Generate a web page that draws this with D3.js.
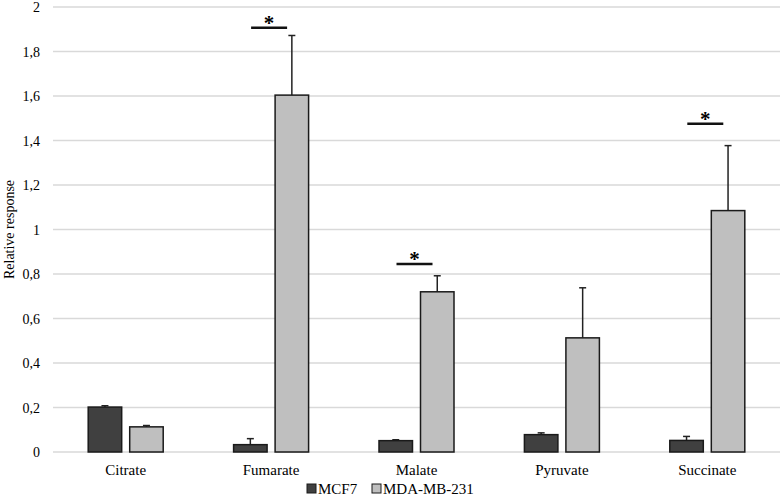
<!DOCTYPE html>
<html>
<head>
<meta charset="utf-8">
<script src="https://cdn.jsdelivr.net/npm/d3@7"></script>
<style>
  body { margin: 0; background: #fff; }
</style>
</head>
<body>
<script>
// chart values
var categories = ["Citrate", "Fumarate", "Malate", "Pyruvate", "Succinate"];
var seriesNames = ["MCF7", "MDA-MB-231"];
var mcf7 = [0.202, 0.033, 0.051, 0.078, 0.052];
var mcf7Err = [0.006, 0.027, 0.004, 0.008, 0.018];
var mda = [0.113, 1.604, 0.720, 0.513, 1.085];
var mdaErr = [0.006, 0.268, 0.072, 0.225, 0.292];
var yTicks = [0, 0.2, 0.4, 0.6, 0.8, 1, 1.2, 1.4, 1.6, 1.8, 2];
var sigCategories = ["Fumarate", "Malate", "Succinate"];
var sigLevels = [1.907, 0.845, 1.475];

var width = 782;
var height = 497;
// note: "top" is taken by window.top, so use plot* names
var plotLeft = 53, plotRight = 780, plotTop = 7, plotBottom = 452;
var colors = ["#404040", "#bfbfbf"];
var serif = "'Liberation Serif', 'Times New Roman', Times, 'DejaVu Serif', serif";

var svg = d3.select("body").append("svg")
    .attr("width", width)
    .attr("height", height)
    .attr("font-family", serif)
    .style("font-family", serif);

var x = d3.scaleBand().domain(categories).range([plotLeft, plotRight]);
var groupHalf = 37.5;
var xInner = d3.scaleBand().domain(seriesNames)
    .range([x.bandwidth() / 2 - groupHalf, x.bandwidth() / 2 + groupHalf])
    .paddingInner(0.193);
var y = d3.scaleLinear().domain([0, 2]).range([plotBottom, plotTop]);

// gridlines
svg.append("g").selectAll("line").data(yTicks).enter().append("line")
    .attr("x1", plotLeft)
    .attr("x2", plotRight)
    .attr("y1", function (d) { return y(d); })
    .attr("y2", function (d) { return y(d); })
    .attr("stroke", "#d9d9d9")
    .attr("stroke-width", 1.3);

// y tick labels
svg.append("g").selectAll("text").data(yTicks).enter().append("text")
    .attr("x", 40)
    .attr("y", function (d) { return y(d) + 5; })
    .attr("text-anchor", "end")
    .style("font-size", "14px")
    .text(function (d) { return d3.format(".1~f")(d).replace(".", ","); });

// y title
svg.append("text")
    .attr("transform", "translate(14," + ((plotTop + plotBottom) / 2) + ") rotate(-90)")
    .attr("text-anchor", "middle")
    .style("font-size", "14px")
    .text("Relative response");

// x labels
svg.append("g").selectAll("text").data(categories).enter().append("text")
    .attr("x", function (d) { return x(d) + x.bandwidth() / 2; })
    .attr("y", 475)
    .attr("text-anchor", "middle")
    .style("font-size", "15px")
    .text(function (d) { return d; });

var rows = [];
categories.forEach(function (c, i) {
    rows.push({cat: c, s: "MCF7", v: mcf7[i], e: mcf7Err[i], k: 0});
    rows.push({cat: c, s: "MDA-MB-231", v: mda[i], e: mdaErr[i], k: 1});
});

function barX(d) { return x(d.cat) + xInner(d.s); }
function barMid(d) { return barX(d) + xInner.bandwidth() / 2; }

// error bars (upper only)
var err = svg.append("g").selectAll("g").data(rows).enter().append("g")
    .attr("stroke", "#222")
    .attr("stroke-width", 1.5);
err.append("line")
    .attr("x1", barMid).attr("x2", barMid)
    .attr("y1", function (d) { return y(d.v); })
    .attr("y2", function (d) { return y(d.v + d.e); });
err.append("line")
    .attr("x1", function (d) { return barMid(d) - 3.5; })
    .attr("x2", function (d) { return barMid(d) + 3.5; })
    .attr("y1", function (d) { return y(d.v + d.e); })
    .attr("y2", function (d) { return y(d.v + d.e); });

// bars
svg.append("g").selectAll("rect").data(rows).enter().append("rect")
    .attr("x", barX)
    .attr("y", function (d) { return y(d.v); })
    .attr("width", xInner.bandwidth())
    .attr("height", function (d) { return y(0) - y(d.v); })
    .attr("fill", function (d) { return colors[d.k]; })
    .attr("stroke", "#1a1a1a")
    .attr("stroke-width", 1.5);

// significance marks
var sig = svg.append("g").selectAll("g").data(sigCategories).enter().append("g");
sig.append("line")
    .attr("x1", function (d) { return x(d) + x.bandwidth() / 2 - 20; })
    .attr("x2", function (d) { return x(d) + x.bandwidth() / 2 + 16; })
    .attr("y1", function (d, i) { return y(sigLevels[i]); })
    .attr("y2", function (d, i) { return y(sigLevels[i]); })
    .attr("stroke", "#111")
    .attr("stroke-width", 2.5);
sig.append("text")
    .attr("x", function (d) { return x(d) + x.bandwidth() / 2 - 2; })
    .attr("y", function (d, i) { return y(sigLevels[i]) + 2; })
    .attr("text-anchor", "middle")
    .style("font-size", "21px")
    .style("font-weight", "bold")
    .text("*");

// legend
var legend = svg.append("g").selectAll("g").data(seriesNames).enter().append("g")
    .attr("transform", function (d, i) { return "translate(" + [307, 372][i] + ",0)"; });
legend.append("rect")
    .attr("x", 0).attr("y", 484)
    .attr("width", 9).attr("height", 9)
    .attr("fill", function (d, i) { return colors[i]; })
    .attr("stroke", "#1a1a1a")
    .attr("stroke-width", 1);
legend.append("text")
    .attr("x", 11)
    .attr("y", 494)
    .style("font-size", "15px")
    .text(function (d) { return d; });
</script>
</body>
</html>
